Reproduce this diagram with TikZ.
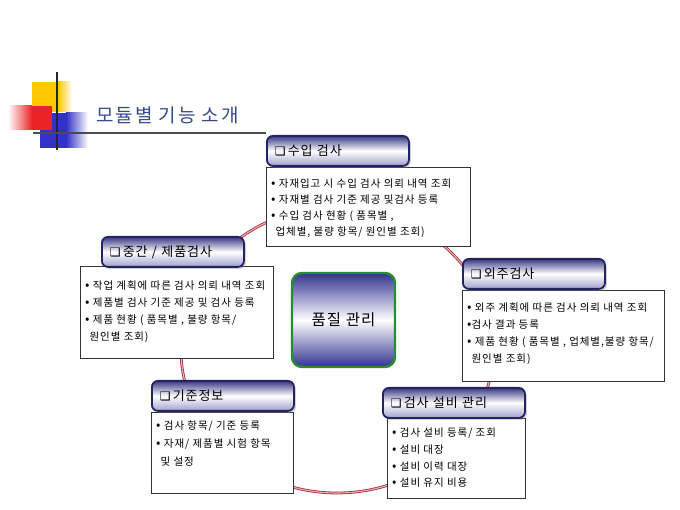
\documentclass[tikz,border=0pt]{standalone}
\usepackage{fontspec}
\setmainfont{Noto Sans CJK KR}
\newfontfamily\bodyf[LetterSpace=9]{Noto Sans CJK KR}
\newfontfamily\hdrf[LetterSpace=7]{Noto Sans CJK KR}
\newfontfamily\ttlf[LetterSpace=10]{Noto Sans CJK KR}
\newfontfamily\dejavu{DejaVu Sans}
\newcommand{\bul}{{\fontsize{13}{10}\selectfont •}}
\usetikzlibrary{shadows}
\definecolor{navyA}{RGB}{35,35,95}
\definecolor{navyB}{RGB}{55,55,130}
\definecolor{lav}{RGB}{160,160,205}
\definecolor{ringR}{RGB}{160,45,60}
\definecolor{ringP}{RGB}{235,175,180}
\definecolor{ttl}{RGB}{55,75,140}
\definecolor{grn}{RGB}{40,140,50}
\definecolor{ctrN}{RGB}{50,50,145}
\definecolor{decoY}{RGB}{255,200,0}
\definecolor{decoR}{RGB}{235,35,40}
\definecolor{decoB}{RGB}{50,50,200}
\begin{document}
\begin{tikzpicture}[x=1pt,y=-1pt,
  hdr/.style={rectangle, rounded corners=6pt, draw=navyA, line width=1.8pt,
    top color=navyB, bottom color=lav, middle color=white,
    minimum width=142pt, minimum height=30pt, anchor=north west,
    inner xsep=8pt, inner ysep=0pt, text width=126pt, align=left,
    font=\hdrf\fontsize{13}{14}\selectfont,
    drop shadow={shadow xshift=2pt, shadow yshift=-2pt, opacity=0.35}},
  bodybox/.style={rectangle, draw=black!80, line width=0.7pt, fill=white,
    anchor=north west, inner sep=0pt},
  bodytext/.style={anchor=north west, align=left, inner sep=0pt},
  ring/.style={draw=ringR, line width=0.8pt, double=ringP, double distance=1.1pt},
  center/.style={rectangle, rounded corners=10pt, draw=grn, line width=2.4pt,
    top color=ctrN, bottom color=ctrN, middle color=white,
    minimum width=103pt, minimum height=94pt, font=\hdrf\fontsize{15.5}{17}\selectfont},
  titletext/.style={anchor=west, text=ttl, font=\ttlf\fontsize{19}{21}\selectfont}
]
\useasboundingbox[fill=white] (0,0) rectangle (680,510);

% decoration
\fill[decoY] (32,82) rectangle (58,112);
\shade[left color=decoY, right color=white] (58,82) rectangle (72,112);
\fill[decoB] (40,113) rectangle (66,148);
\shade[left color=decoB, right color=white] (66,113) rectangle (88,148);
\shade[left color=white, right color=decoR] (8,106) rectangle (32,130);
\fill[decoR] (32,106) rectangle (52,130);
\draw[black!85, line width=1.1pt] (57,72) -- (57,150);
\draw[black!70, line width=1.1pt] (33,133) -- (266,133);
\node[titletext] (title) at (93,115) {모듈별 기능 소개};

% ring
\coordinate (ringc) at (337,350);
\draw[ring] (ringc) ellipse [x radius=156pt, y radius=143pt];

% center
\node[center] (pq) at (343.5,320) {품질 관리};

% bodies
\node[bodybox, minimum width=204pt, minimum height=79pt] (b1) at (266,167) {};
\node[bodybox, minimum width=193pt, minimum height=92pt] (b2) at (80,266) {};
\node[bodybox, minimum width=202pt, minimum height=91pt] (b3) at (462,290) {};
\node[bodybox, minimum width=142pt, minimum height=81pt] (b4) at (151,412) {};
\node[bodybox, minimum width=138pt, minimum height=80pt] (b5) at (387,418) {};

\node[bodytext, font=\bodyf\fontsize{10.5}{16}\selectfont] (t1) at (271,179)
 {\bul{} 자재입고 시 수입 검사 의뢰 내역 조회\\
  \bul{} 자재별 검사 기준 제공 및검사 등록\\
  \bul{} 수입 검사 현황 ( 품목별 ,\\
  \phantom{\bul}업체별, 불량 항목/ 원인별 조회)};
\node[bodytext, font=\bodyf\fontsize{10.5}{17}\selectfont] (t2) at (85,281)
 {\bul{} 작업 계획에 따른 검사 의뢰 내역 조회\\
  \bul{} 제품별 검사 기준 제공 및 검사 등록\\
  \bul{} 제품 현황 ( 품목별 , 불량 항목/\\
  \phantom{\bul}원인별 조회)};
\node[bodytext, font=\bodyf\fontsize{10.5}{17}\selectfont] (t3) at (467,303)
 {\bul{} 외주 계획에 따른 검사 의뢰 내역 조회\\
  \bul{}검사 결과 등록\\
  \bul{} 제품 현황 ( 품목별 , 업체별,불량 항목/\\
  \phantom{\bul}원인별 조회)};
\node[bodytext, font=\bodyf\fontsize{10.5}{18}\selectfont] (t4) at (156,421)
 {\bul{} 검사 항목/ 기준 등록\\
  \bul{} 자재/ 제품별 시험 항목\\
  \phantom{\bul}및 설정};
\node[bodytext, font=\bodyf\fontsize{10.5}{16.7}\selectfont] (t5) at (392,428)
 {\bul{} 검사 설비 등록/ 조회\\
  \bul{} 설비 대장\\
  \bul{} 설비 이력 대장\\
  \bul{} 설비 유지 비용};

% headers
\node[hdr] (h1) at (266,135) {{\dejavu\fontsize{12}{12}\selectfont ❑}\,수입 검사};
\node[hdr] (h2) at (101,236) {{\dejavu\fontsize{12}{12}\selectfont ❑}\,중간 / 제품검사};
\node[hdr] (h3) at (462,258) {{\dejavu\fontsize{12}{12}\selectfont ❑}\,외주검사};
\node[hdr] (h4) at (151,380) {{\dejavu\fontsize{12}{12}\selectfont ❑}\,기준정보};
\node[hdr] (h5) at (382,387) {{\dejavu\fontsize{12}{12}\selectfont ❑}\,검사 설비 관리};
\end{tikzpicture}
\end{document}
